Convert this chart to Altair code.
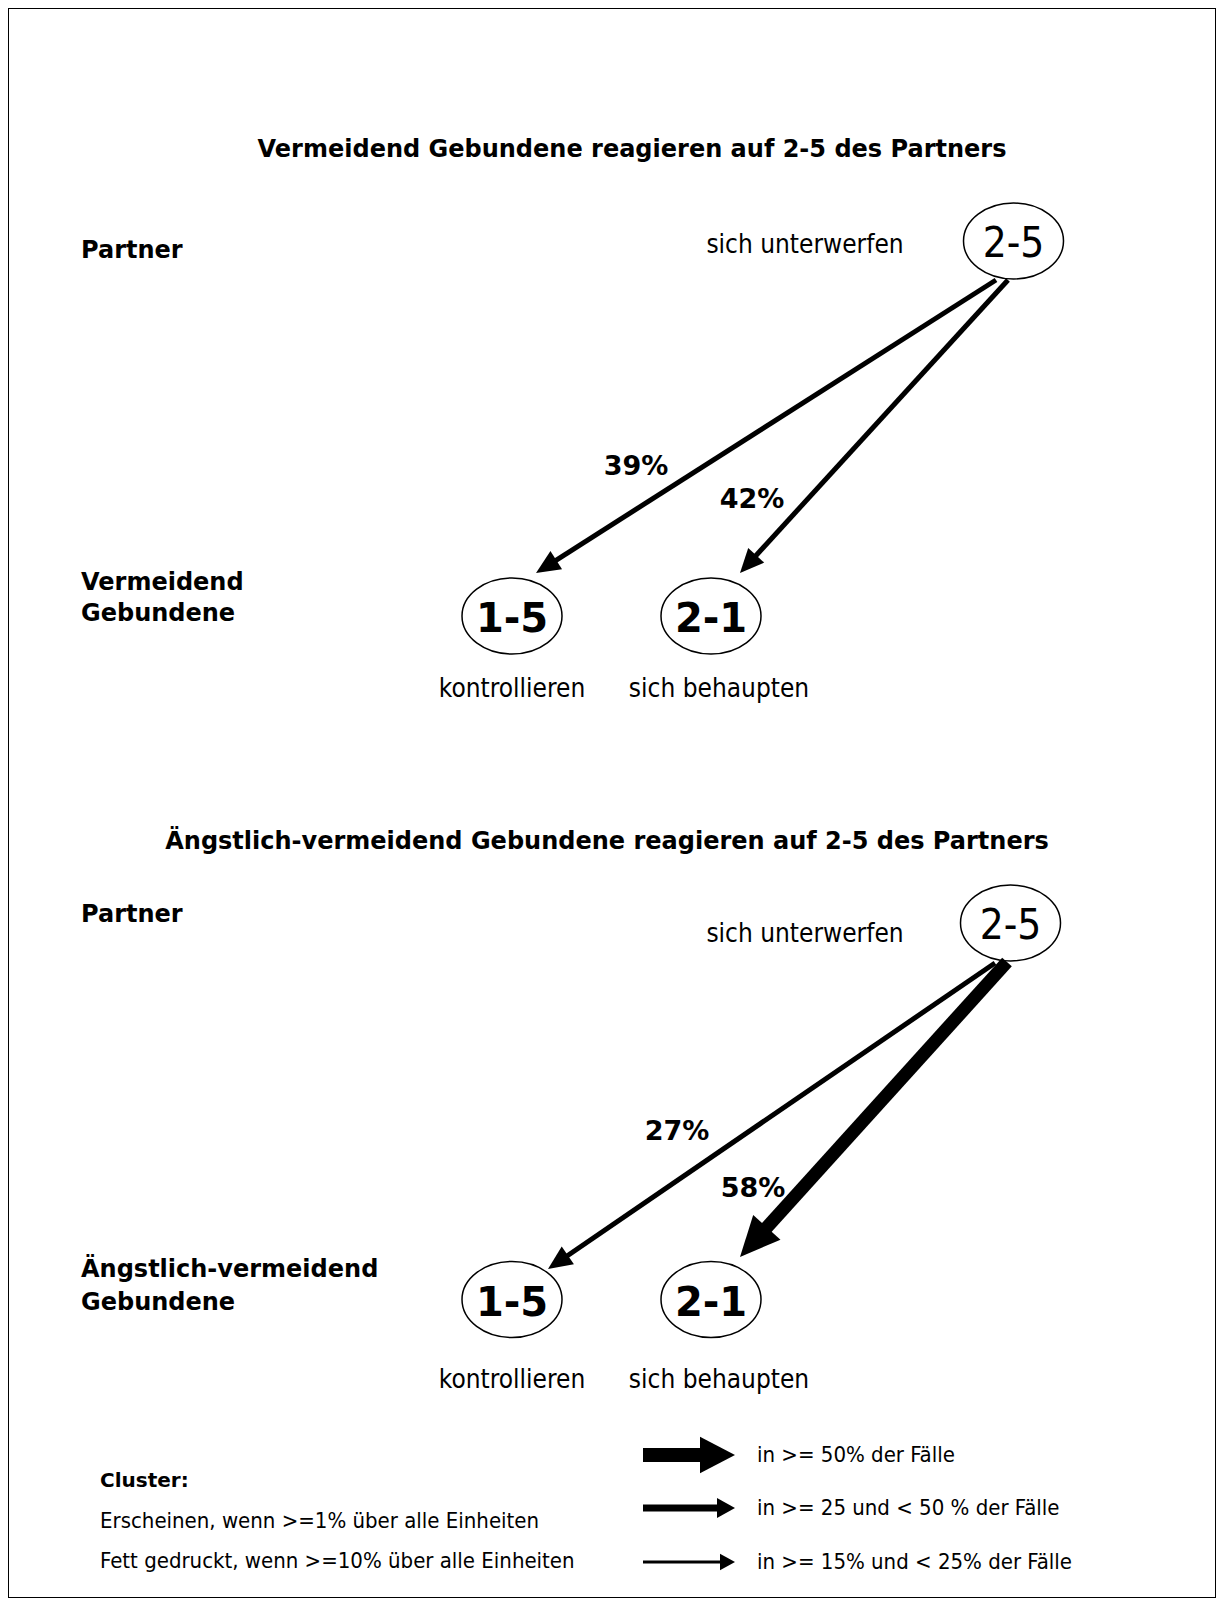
import math
import altair as alt
import pandas as pd

# ---------------- data ----------------
panel_titles = [
    "Vermeidend Gebundene reagieren auf 2-5 des Partners",
    "Ängstlich-vermeidend Gebundene reagieren auf 2-5 des Partners",
]
partner_label = "Partner"
group_labels = [["Vermeidend", "Gebundene"], ["Ängstlich-vermeidend", "Gebundene"]]
source_code = "2-5"
source_desc = "sich unterwerfen"
target_codes = ["1-5", "2-1"]
target_descs = ["kontrollieren", "sich behaupten"]
pct_vermeidend = [39, 42]
pct_aengstlich = [27, 58]
panel_pcts = [pct_vermeidend, pct_aengstlich]
legend_title = "Cluster:"
legend_notes = [
    "Erscheinen, wenn >=1% über alle Einheiten",
    "Fett gedruckt, wenn >=10% über alle Einheiten",
]
legend_arrow_labels = [
    "in >= 50% der Fälle",
    "in >= 25 und < 50 % der Fälle",
    "in >= 15% und < 25% der Fälle",
]
legend_classes = [50, 25, 15]

# ---------------- layout (page pixel coordinates) ----------------
W, H = 1208, 1590
layout = [
    dict(title=(632, 150), partner=(81, 251), group=(81, [583, 614]),
         src=(1013.5, 241), tgt=[(512, 616), (711, 616)],
         src_desc=(805, 245), tgt_desc=[(512, 689), (719, 689)],
         tails=[(996, 280), (1008, 280)], tips=[(536, 573), (740, 573)],
         pct_pos=[(636, 467), (752, 500)]),
    dict(title=(607, 842), partner=(81, 915), group=(81, [1270, 1303]),
         src=(1010.5, 923), tgt=[(512, 1299.5), (711, 1299.5)],
         src_desc=(805, 934), tgt_desc=[(512, 1379.5), (719, 1379.5)],
         tails=[(995, 963), (1007, 962)], tips=[(548, 1269), (740, 1257)],
         pct_pos=[(677, 1132), (753, 1189)]),
]
code_dy = 4  # optical centring of the codes inside the ellipses
legend_left = dict(x=100, ys=[1481, 1521, 1561])
legend_arrow = dict(x0=643, tip=735, ys=[1455, 1508, 1562], text_x=757)

REG = "DejaVu Sans Condensed, DejaVu Sans"
BOLD = "DejaVu Sans"

xs = alt.Scale(domain=[8, 8 + W], nice=False, zero=False)
ys = alt.Scale(domain=[8, 8 + H], nice=False, zero=False, reverse=True)


def X(f):
    return alt.X(f"{f}:Q", scale=xs, axis=None)


def Y(f):
    return alt.Y(f"{f}:Q", scale=ys, axis=None)


def diag_style(p):
    if p >= 50:
        return dict(sw=13, L=40, r=0.46)
    if p >= 25:
        return dict(sw=5, L=24, r=0.45)
    return dict(sw=3, L=16, r=0.5)


def legend_style(p):
    if p >= 50:
        return dict(sw=14, L=35, r=0.52)
    if p >= 25:
        return dict(sw=7, L=18, r=0.55)
    return dict(sw=3, L=15, r=0.55)


def arrow_row(tail, tip, st):
    dx, dy = tip[0] - tail[0], tip[1] - tail[1]
    n = math.hypot(dx, dy)
    ux, uy = dx / n, dy / n
    back = st["L"] * 0.85
    return dict(x=tail[0], y=tail[1], xe=tip[0] - ux * back, ye=tip[1] - uy * back,
                tx=tip[0], ty=tip[1], sw=st["sw"], size=4 * st["L"] ** 2,
                angle=math.degrees(math.atan2(dx, -dy)) % 360,
                path=f"M0,0 L{-st['r']},1 L{st['r']},1 Z")


arrows = []
bold24, bold_pct, reg_desc, bold_code, reg_code, reg_small, bold_small = [], [], [], [], [], [], []
nodes = []
for lay, title, grp, pcts in zip(layout, panel_titles, group_labels, panel_pcts):
    bold24.append(dict(x=lay["title"][0], y=lay["title"][1], text=title, size=24, al="center"))
    bold24.append(dict(x=lay["partner"][0], y=lay["partner"][1], text=partner_label, size=24, al="left"))
    for line, gy in zip(grp, lay["group"][1]):
        bold24.append(dict(x=lay["group"][0], y=gy, text=line, size=24, al="left"))
    nodes.append(dict(x=lay["src"][0], y=lay["src"][1]))
    reg_code.append(dict(x=lay["src"][0], y=lay["src"][1] + code_dy - 1, text=source_code, size=42))
    reg_desc.append(dict(x=lay["src_desc"][0], y=lay["src_desc"][1], text=source_desc, size=26))
    for (tx, ty), code, desc, (dx_, dy_), tail, tip, p, (px, py) in zip(
            lay["tgt"], target_codes, target_descs, lay["tgt_desc"], lay["tails"],
            lay["tips"], pcts, lay["pct_pos"]):
        nodes.append(dict(x=tx, y=ty))
        bold_code.append(dict(x=tx, y=ty + code_dy, text=code, size=40))
        reg_desc.append(dict(x=dx_, y=dy_, text=desc, size=26))
        arrows.append(arrow_row(tail, tip, diag_style(p)))
        bold_pct.append(dict(x=px, y=py, text=f"{p}%", size=27))

bold_small.append(dict(x=legend_left["x"], y=legend_left["ys"][0], text=legend_title, size=20))
for note, ny in zip(legend_notes, legend_left["ys"][1:]):
    reg_small.append(dict(x=legend_left["x"], y=ny, text=note, size=22))
for lab, cls, ly in zip(legend_arrow_labels, legend_classes, legend_arrow["ys"]):
    arrows.append(arrow_row((legend_arrow["x0"], ly), (legend_arrow["tip"], ly), legend_style(cls)))
    reg_small.append(dict(x=legend_arrow["text_x"], y=ly, text=lab, size=22))

ELLIPSE = ("M1,0 C1,0.4197 0.5523,0.76 0,0.76 C-0.5523,0.76 -1,0.4197 -1,0 "
           "C-1,-0.4197 -0.5523,-0.76 0,-0.76 C0.5523,-0.76 1,-0.4197 1,0 Z")

adf = pd.DataFrame(arrows)
shafts = alt.Chart(adf).mark_rule(color="black", strokeCap="butt").encode(
    x=X("x"), y=Y("y"), x2="xe:Q", y2="ye:Q",
    strokeWidth=alt.StrokeWidth("sw:Q", scale=None))
heads = alt.Chart(adf).mark_point(filled=True, color="black", opacity=1, strokeWidth=0).encode(
    x=X("tx"), y=Y("ty"),
    shape=alt.Shape("path:N", scale=None),
    size=alt.Size("size:Q", scale=None),
    angle=alt.Angle("angle:Q", scale=None))
ellipses = alt.Chart(pd.DataFrame(nodes)).mark_point(
    shape=ELLIPSE, size=10000, filled=True, fill="white", stroke="black",
    strokeWidth=1.5, opacity=1).encode(x=X("x"), y=Y("y"))


def text_layer(rows, font, weight, align="center"):
    return alt.Chart(pd.DataFrame(rows)).mark_text(
        font=font, fontWeight=weight, align=align, baseline="middle", color="black"
    ).encode(x=X("x"), y=Y("y"), text="text:N", size=alt.Size("size:Q", scale=None))


b24c = [r for r in bold24 if r["al"] == "center"]
b24l = [r for r in bold24 if r["al"] == "left"]

chart = alt.layer(
    ellipses,
    shafts,
    heads,
    text_layer(b24c, BOLD, "bold"),
    text_layer(b24l, BOLD, "bold", "left"),
    text_layer(bold_pct, BOLD, "bold"),
    text_layer(bold_code, BOLD, "bold"),
    text_layer(reg_code, REG, "normal"),
    text_layer(reg_desc, REG, "normal"),
    text_layer(bold_small, BOLD, "bold", "left"),
    text_layer(reg_small, REG, "normal", "left"),
).properties(width=W, height=H, padding=0, autosize="none", background="white"
).configure_view(stroke="black", strokeWidth=2)

chart.save("out.html", embed_options={"renderer": "svg", "actions": False})
